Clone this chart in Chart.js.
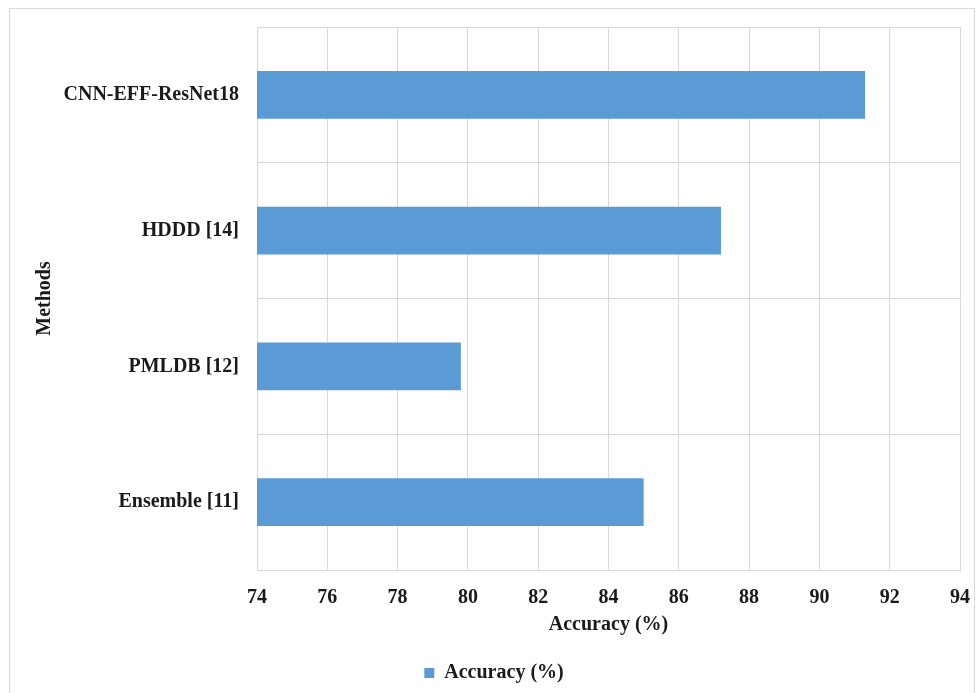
<!DOCTYPE html>
<html>
<head>
<meta charset="utf-8">
<script src="https://cdn.jsdelivr.net/npm/chart.js@4/dist/chart.umd.min.js"></script>
<style>
  html, body { margin: 0; padding: 0; background: #ffffff; }
  #wrap { position: relative; width: 978px; height: 693px; }
  #frame { position: absolute; left: 9px; top: 8px; width: 966px; height: 690px;
           border: 1px solid #d9d9d9; box-sizing: border-box; pointer-events: none; }
  canvas { position: absolute; left: 0; top: 0; }
</style>
</head>
<body>
<div id="wrap">
  <canvas id="chart" width="978" height="693"></canvas>
  <div id="frame"></div>
</div>
<script>
// Methods compared and their accuracy (%)
const methods = ["CNN-EFF-ResNet18", "HDDD [14]", "PMLDB [12]", "Ensemble [11]"];
const accuracy = [91.3, 87.2, 79.8, 85.0];
const seriesLabel = "Accuracy (%)";
const axisMin = 74;
const axisMax = 94;
const axisStep = 2;

const serif = "'Times New Roman', 'Liberation Serif', serif";
const textColor = "#1a1a1a";
const gridColor = "#d9d9d9";
const labelFont = { family: serif, size: 20, weight: "bold" };

new Chart(document.getElementById("chart"), {
  type: "bar",
  data: {
    labels: methods,
    datasets: [{
      label: seriesLabel,
      data: accuracy,
      backgroundColor: "#5b9bd5",
      borderWidth: 0,
      barPercentage: 0.35,
      categoryPercentage: 1.0
    }]
  },
  options: {
    indexAxis: "y",
    responsive: false,
    animation: false,
    layout: { padding: { top: 27, right: 18, left: 28, bottom: 0 } },
    plugins: {
      tooltip: { enabled: false },
      legend: {
        position: "bottom",
        labels: {
          boxWidth: 10,
          boxHeight: 10,
          padding: 12,
          color: textColor,
          font: labelFont
        }
      }
    },
    scales: {
      x: {
        min: axisMin,
        max: axisMax,
        ticks: {
          stepSize: axisStep,
          padding: 16,
          color: textColor,
          font: labelFont
        },
        grid: { color: gridColor, drawTicks: false },
        border: { color: gridColor },
        title: {
          display: true,
          text: seriesLabel,
          color: textColor,
          font: labelFont,
          padding: { top: 0, bottom: 14 }
        },
        afterFit: (scale) => {
          scale.height = 81;
          scale.paddingLeft = 0;
          scale.paddingRight = 0;
        }
      },
      y: {
        ticks: {
          padding: 18,
          color: textColor,
          font: labelFont
        },
        grid: { color: gridColor, drawTicks: false, offset: true },
        border: { display: false },
        title: {
          display: true,
          text: "Methods",
          color: textColor,
          font: labelFont,
          padding: { top: 5, bottom: 0 }
        },
        afterFit: (scale) => {
          scale.width = 229;
          scale.paddingTop = 0;
          scale.paddingBottom = 0;
        }
      }
    }
  }
});
</script>
</body>
</html>
